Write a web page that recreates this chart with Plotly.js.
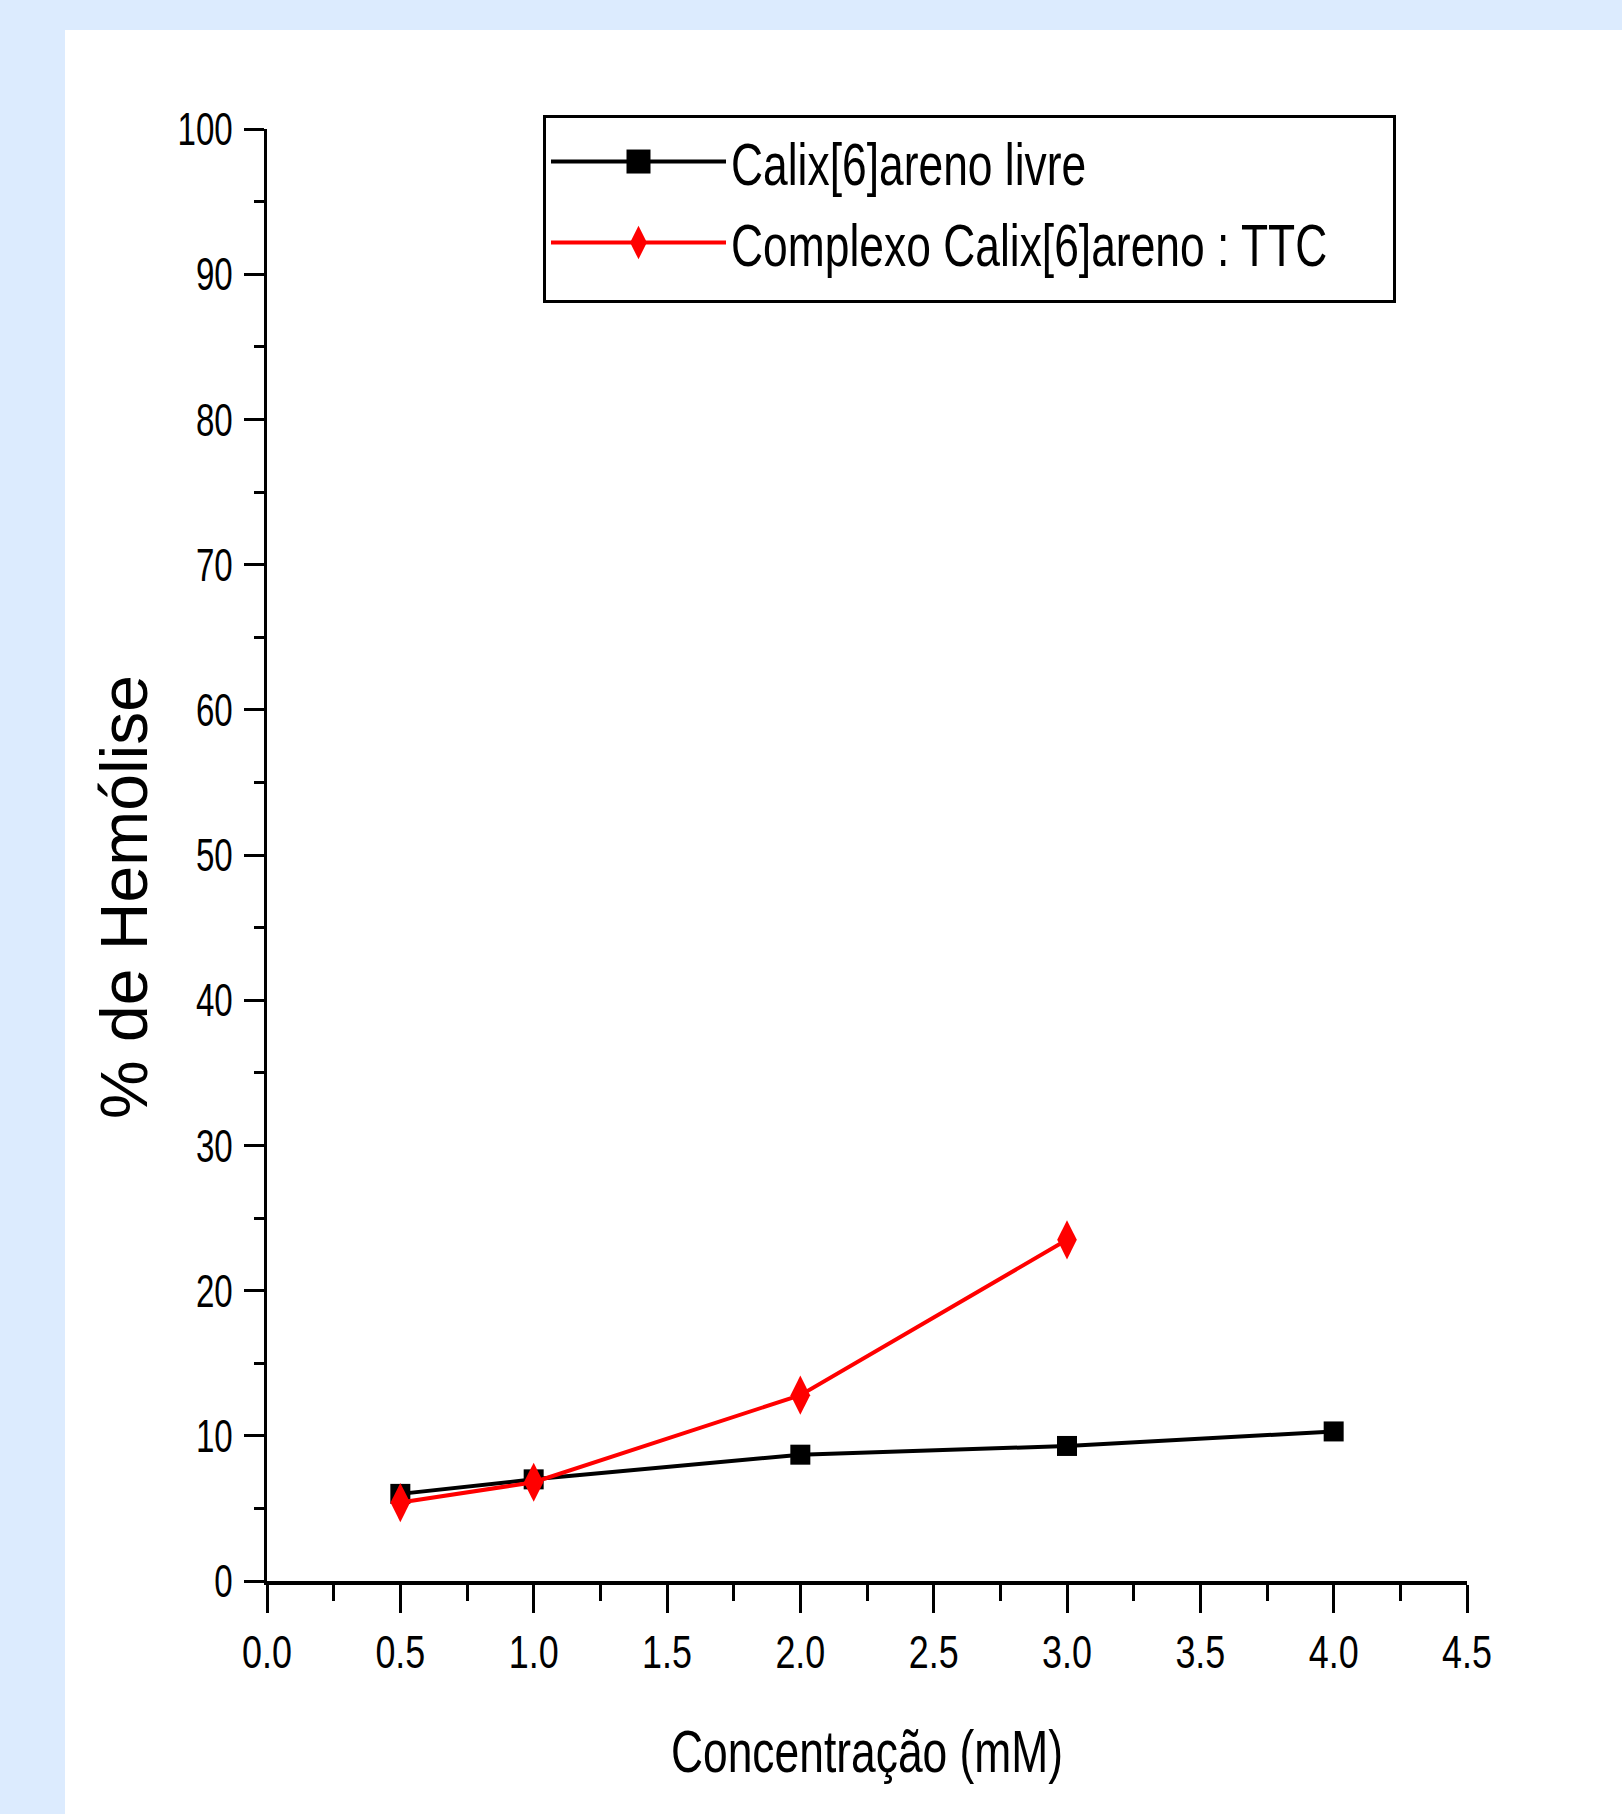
<!DOCTYPE html>
<html>
<head>
<meta charset="utf-8">
<script src="https://cdn.plot.ly/plotly-3.0.1.min.js"></script>
<style>
  html, body { margin: 0; padding: 0; background: #dcebfe; width: 1622px; height: 1814px; overflow: hidden; }
  #wrap { position: absolute; left: 65px; top: 30px; width: 1557px; height: 1784px; background: #ffffff; }
  #chart { width: 1557px; height: 1784px; }
</style>
</head>
<body>
<div id="wrap"><div id="chart"></div></div>
<script>
// Data
const concentrationFree = [0.5, 1.0, 2.0, 3.0, 4.0];
const hemolysisFree = [6.0, 7.0, 8.7, 9.3, 10.3];
const concentrationComplex = [0.5, 1.0, 2.0, 3.0];
const hemolysisComplex = [5.4, 6.8, 12.8, 23.5];
const seriesNames = ["Calix[6]areno livre", "Complexo Calix[6]areno : TTC"];
const xTitle = "Concentração (mM)";
const yTitle = "% de Hemólise";

const arial = "'Liberation Sans', Arial, sans-serif";

const traces = [
  {
    x: concentrationFree, y: hemolysisFree, name: seriesNames[0],
    type: "scatter", mode: "lines+markers",
    line: { color: "#000000", width: 4 },
    marker: { symbol: "square", size: 20, color: "#000000" }
  },
  {
    x: concentrationComplex, y: hemolysisComplex, name: seriesNames[1],
    type: "scatter", mode: "lines+markers",
    line: { color: "#ff0000", width: 4 },
    marker: { symbol: "diamond-tall", size: 28, color: "#ff0000" }
  }
];

const layout = {
  width: 1557, height: 1784,
  paper_bgcolor: "#ffffff", plot_bgcolor: "#ffffff",
  margin: { l: 202, r: 155, t: 99, b: 233 },
  showlegend: true,
  legend: {
    x: 0.23, y: 1.011, xanchor: "left", yanchor: "top",
    bgcolor: "#ffffff", bordercolor: "#000000", borderwidth: 3,
    font: { family: arial, size: 60, color: "#000000" },
    traceorder: "normal", itemwidth: 175
  },
  xaxis: {
    range: [0, 4.5], dtick: 0.5, tick0: 0, tickformat: ".1f",
    showgrid: false, zeroline: false,
    showline: true, linecolor: "#000000", linewidth: 4,
    ticks: "outside", ticklen: 28, tickwidth: 3, tickcolor: "#000000",
    minor: { dtick: 0.25, ticks: "outside", ticklen: 16, tickwidth: 3, tickcolor: "#000000", showgrid: false },
    ticklabelstandoff: 0,
    tickfont: { family: arial, size: 46, color: "#000000" },
    title: { text: xTitle, font: { family: arial, size: 60, color: "#000000" }, standoff: 54 }
  },
  yaxis: {
    range: [0, 100], dtick: 10, tick0: 0,
    showgrid: false, zeroline: false,
    showline: true, linecolor: "#000000", linewidth: 3,
    ticks: "outside", ticklen: 20, tickwidth: 3, tickcolor: "#000000",
    minor: { dtick: 5, ticks: "outside", ticklen: 10, tickwidth: 3, tickcolor: "#000000", showgrid: false },
    ticklabelstandoff: 2,
    tickfont: { family: arial, size: 46, color: "#000000" },
    title: { text: yTitle, font: { family: arial, size: 66, color: "#000000" }, standoff: 0 }
  }
};

// Narrow the text horizontally around its own anchor, like the condensed
// lettering of the original figure (text stays real SVG text).
function squish(gd, selector, sx) {
  gd.querySelectorAll(selector).forEach(function (t) {
    const x = parseFloat(t.getAttribute("x")) || 0;
    const y = parseFloat(t.getAttribute("y")) || 0;
    const tr = t.getAttribute("transform") || "";
    t.setAttribute("transform", tr + " translate(" + x + "," + y + ") scale(" + sx + ",1) translate(" + (-x) + "," + (-y) + ")");
  });
}

function finish(gd) {
  squish(gd, ".xtick text", 0.78);
  squish(gd, ".ytick text", 0.72);
  squish(gd, "text.legendtext", 0.74);
  squish(gd, "text.xtitle", 0.74);
  const yt = gd.querySelector("text.ytitle");
  if (yt) {
    yt.setAttribute("transform", "translate(13,42) " + (yt.getAttribute("transform") || ""));
  }
  // larger legend symbols, as in the original
  gd.querySelectorAll(".legend .legendpoints path.scatterpts").forEach(function (p) {
    p.setAttribute("transform", (p.getAttribute("transform") || "") + " scale(1.5)");
  });
  const bg = gd.querySelector(".legend rect.bg");
  if (bg) {
    const y = parseFloat(bg.getAttribute("y")) || 0;
    const h = parseFloat(bg.getAttribute("height")) || 0;
    bg.setAttribute("y", y + 2);
    bg.setAttribute("height", h + 10);
    bg.setAttribute("width", 850);
  }
}

Plotly.newPlot("chart", traces, layout, { displayModeBar: false, staticPlot: true })
  .then(finish);
</script>
</body>
</html>
